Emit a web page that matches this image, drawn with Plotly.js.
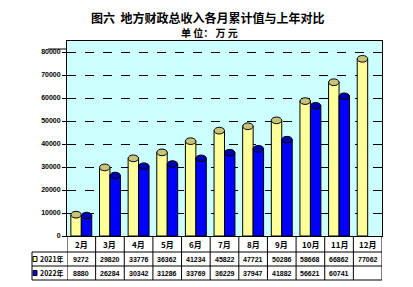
<!DOCTYPE html>
<html><head><meta charset="utf-8">
<script src="https://cdn.plot.ly/plotly-3.0.1.min.js"></script>
<style>html,body{margin:0;padding:0;background:#fff}#c{width:413px;height:287px}</style>
</head><body><div id="c"></div>
<script>
const months = ['2月','3月','4月','5月','6月','7月','8月','9月','10月','11月','12月'];
const series2021 = [9272, 29820, 33776, 36362, 41234, 45822, 47721, 50286, 58668, 66862, 77062];
const series2022 = [8880, 26284, 30342, 31286, 33769, 36229, 37947, 41882, 56621, 60741, null];
const seriesNames = ['2021年','2022年'];
const yTicks = [0,10000,20000,30000,40000,50000,60000,70000,80000];

const FONT = '"Noto Sans CJK SC", "Liberation Sans", sans-serif';
const bodyColors = ['#FFFF99', '#0000FF'];
const capColors = ['#C8C27A', '#0000B0'];
const bargap = 0.27;
const bw = (1 - bargap) / 2;
const yMax = 84800;
const capH = 1450;

const traces = [series2021, series2022].map((vals, k) => ({
  type: 'bar', x: months.map((m, i) => i), y: vals, name: seriesNames[k],
  marker: {color: bodyColors[k], line: {color: '#000', width: 1}},
  hoverinfo: 'skip', showlegend: false
}));

const shapes = [];
const annotations = [];
// cylinder caps
[series2021, series2022].forEach((vals, k) => {
  vals.forEach((v, i) => {
    if (v == null) return;
    const c = i + (k === 0 ? -bw / 2 : bw / 2);
    shapes.push({type: 'circle', xref: 'x', yref: 'y', x0: c - bw / 2, x1: c + bw / 2,
      y0: v - capH, y1: v + capH, fillcolor: capColors[k], line: {color: '#000', width: 1}, layer: 'above'});
  });
});

// table geometry (paper coords): plot bottom y=0, one paper unit = 195px
const px = 1 / 195;
const rowHeader = -16 * px, row1 = -30 * px, row2 = -44 * px;
const legendLeft = -35 / 315;
for (let i = 0; i <= months.length; i++) {
  shapes.push({type: 'line', xref: 'x', yref: 'paper', x0: i - 0.5, x1: i - 0.5, y0: 0, y1: row2,
    line: {color: '#000', width: 1}});
}
[rowHeader, row1, row2].forEach(y => {
  shapes.push({type: 'line', xref: 'paper', yref: 'paper', x0: legendLeft, x1: 1, y0: y, y1: y,
    line: {color: '#000', width: 1}});
});
shapes.push({type: 'line', xref: 'paper', yref: 'paper', x0: legendLeft, x1: legendLeft, y0: rowHeader, y1: row2,
  line: {color: '#000', width: 1}});
shapes.push({type: 'line', xref: 'paper', yref: 'paper', x0: -19 / 315, x1: 0, y0: 1 - 8 * px, y1: 1 - 8 * px,
  line: {color: '#000', width: 1}});

months.forEach((m, i) => {
  annotations.push({xref: 'x', yref: 'paper', x: i, y: rowHeader / 2, text: '<b>' + m + '</b>',
    showarrow: false, font: {family: FONT, size: 8, color: '#000'}, xanchor: 'center', yanchor: 'middle'});
});
[series2021, series2022].forEach((vals, k) => {
  const yc = k === 0 ? (rowHeader + row1) / 2 : (row1 + row2) / 2;
  vals.forEach((v, i) => {
    if (v == null) return;
    annotations.push({xref: 'x', yref: 'paper', x: i, y: yc, text: '<b>' + v + '</b>',
      showarrow: false, font: {family: '"Liberation Sans", sans-serif', size: 7, color: '#000'}, xanchor: 'center', yanchor: 'middle'});
  });
  shapes.push({type: 'rect', xref: 'paper', yref: 'paper', x0: -34 / 315, x1: -30 / 315, y0: yc - 2.5 * px, y1: yc + 2.5 * px,
    fillcolor: bodyColors[k], line: {color: '#000', width: 1}});
  annotations.push({xref: 'paper', yref: 'paper', x: -29 / 315, y: yc, text: '<b>' + seriesNames[k] + '</b>',
    showarrow: false, font: {family: FONT, size: 7, color: '#000'}, xanchor: 'left', yanchor: 'middle', xshift: 0});
});

annotations.push({xref: 'paper', yref: 'paper', x: (207 - 67) / 315, y: 1 + 24 * px, text: '<b>图六  地方财政总收入各月累计值与上年对比</b>',
  showarrow: false, font: {family: FONT, size: 12, color: '#000'}, xanchor: 'center', yanchor: 'middle'});
annotations.push({xref: 'paper', yref: 'paper', x: (209 - 67) / 315, y: 1 + 8 * px, text: '<b>单 位： 万 元</b>',
  showarrow: false, font: {family: FONT, size: 10, color: '#000'}, xanchor: 'center', yanchor: 'middle'});

const layout = {
  width: 413, height: 287,
  margin: {l: 67, r: 31, t: 41, b: 51, pad: 0},
  paper_bgcolor: '#fff', plot_bgcolor: '#CCFFFF',
  barmode: 'group', bargap: bargap, bargroupgap: 0,
  showlegend: false,
  xaxis: {type: 'linear', range: [-0.5, months.length - 0.5], showticklabels: false, showgrid: false,
    zeroline: false, showline: true, linecolor: '#000', linewidth: 1, mirror: true, ticks: ''},
  yaxis: {range: [0, yMax], tickvals: yTicks, ticktext: yTicks.map(String), showgrid: true,
    gridcolor: '#000', gridwidth: 1, griddash: 'dash', zeroline: false,
    showline: true, linecolor: '#000', linewidth: 1, mirror: true, ticks: 'outside', ticklen: 4, tickcolor: '#000',
    tickfont: {family: '"Liberation Sans", sans-serif', size: 7, color: '#000', weight: 'bold'}},
  shapes: shapes, annotations: annotations
};
Plotly.newPlot('c', traces, layout, {staticPlot: true, displayModeBar: false});
</script></body></html>
